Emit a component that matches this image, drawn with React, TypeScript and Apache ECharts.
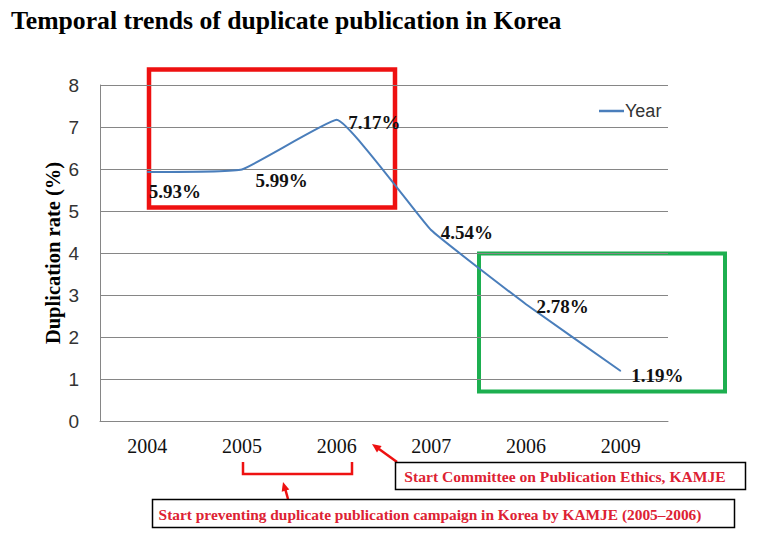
import React, { useEffect, useRef } from "react";
import * as echarts from "echarts";

const categories = ["2004", "2005", "2006", "2007", "2006", "2009"];
const rates = [5.93, 5.99, 7.17, 4.54, 2.78, 1.19];
const rateLabels = ["5.93%", "5.99%", "7.17%", "4.54%", "2.78%", "1.19%"];
const labelOffsets = [[1, 20], [13, 11], [11, 3], [9, 2], [10, 2], [10, 4]];
const yTicks = { min: 0, max: 8, interval: 1 };
const seriesName = "Year";
const titleText = "Temporal trends of duplicate publication in Korea";
const yAxisName = "Duplication rate (%)";
const note1 = "Start Committee on Publication Ethics, KAMJE";
const note2 = "Start preventing duplicate publication campaign in Korea by KAMJE (2005\u20132006)";

const SERIF = "'Liberation Serif', 'Times New Roman', serif";
const SANS = "'Liberation Sans', Arial, sans-serif";
const RED = "#ee1111";
const NOTE_RED = "#dd2233";
const GREEN = "#1daf50";
const LINE = "#4a7ebb";

export default function App() {
  const ref = useRef<HTMLDivElement>(null);
  useEffect(() => {
    document.body.style.margin = "0";
    if (!ref.current) return;
    const chart = echarts.init(ref.current, null, { renderer: "svg" });
    chart.setOption({
      animation: false,
      backgroundColor: "#ffffff",
      title: {
        text: titleText,
        left: 6,
        top: 2,
        textStyle: { fontFamily: SERIF, fontWeight: "bold", fontSize: 25.7, color: "#000" },
      },
      legend: {
        data: [seriesName],
        left: 594,
        top: 97,
        icon: "rect",
        itemWidth: 25,
        itemHeight: 2.5,
        itemGap: 0,
        textStyle: { fontFamily: SANS, fontSize: 18, color: "#333", padding: [0, 0, 0, -4] },
      },
      grid: { left: 100, right: 94, top: 85, bottom: 113 },
      xAxis: {
        type: "category",
        data: categories,
        boundaryGap: true,
        axisLine: { lineStyle: { color: "#868686", width: 1 } },
        axisTick: { show: false },
        axisLabel: { fontFamily: SERIF, fontSize: 20, color: "#111", margin: 15 },
      },
      yAxis: {
        type: "value",
        min: yTicks.min,
        max: yTicks.max,
        interval: yTicks.interval,
        name: yAxisName,
        nameLocation: "middle",
        nameRotate: 90,
        nameGap: 37,
        nameMoveOverlap: false,
        nameTextStyle: { fontFamily: SERIF, fontWeight: "bold", fontSize: 20.5, color: "#000" },
        axisLine: { show: true, lineStyle: { color: "#868686", width: 1 } },
        axisTick: { show: false },
        splitLine: { lineStyle: { color: "#868686", width: 1 } },
        axisLabel: { fontFamily: SANS, fontSize: 19, color: "#333", margin: 21 },
      },
      series: [
        {
          name: seriesName,
          type: "line",
          smooth: 0.1,
          symbol: "circle",
          symbolSize: 1,
          itemStyle: { color: LINE },
          lineStyle: { color: LINE, width: 2 },
          data: rates.map((v, i) => ({
            value: v,
            label: {
              show: true,
              position: "right",
              distance: 0,
              offset: labelOffsets[i],
              formatter: rateLabels[i],
              fontFamily: SERIF,
              fontWeight: "bold",
              fontSize: 19,
              color: "#111",
            },
          })),
        },
      ],
      graphic: [
        {
          type: "rect",
          shape: { x: 149, y: 69.5, width: 246, height: 138 },
          style: { fill: "none", stroke: RED, lineWidth: 4.5 },
        },
        {
          type: "rect",
          shape: { x: 479, y: 253.5, width: 246, height: 138 },
          style: { fill: "none", stroke: GREEN, lineWidth: 4 },
        },
        {
          type: "polyline",
          shape: { points: [[243, 462], [243, 474], [352, 474], [352, 462]] },
          style: { fill: "none", stroke: RED, lineWidth: 2.5 },
        },
        {
          type: "line",
          shape: { x1: 397, y1: 462, x2: 379, y2: 449 },
          style: { stroke: RED, lineWidth: 2.5 },
        },
        {
          type: "polygon",
          shape: { points: [[372, 444], [381.6, 446], [377, 452.4]] },
          style: { fill: RED },
        },
        {
          type: "line",
          shape: { x1: 288, y1: 499, x2: 285.5, y2: 490 },
          style: { stroke: RED, lineWidth: 2.5 },
        },
        {
          type: "polygon",
          shape: { points: [[283, 482], [289.3, 489.5], [281.7, 491.7]] },
          style: { fill: RED },
        },
        {
          type: "rect",
          shape: { x: 395.5, y: 462.5, width: 350, height: 27 },
          style: { fill: "#fff", stroke: "#000", lineWidth: 1.5 },
        },
        {
          type: "text",
          x: 565,
          y: 476,
          style: {
            text: note1,
            align: "center",
            verticalAlign: "middle",
            fontFamily: SERIF,
            fontWeight: "bold",
            fontSize: 15.6,
            fill: NOTE_RED,
          },
        },
        {
          type: "rect",
          shape: { x: 152.5, y: 499.5, width: 582, height: 28 },
          style: { fill: "#fff", stroke: "#000", lineWidth: 1.5 },
        },
        {
          type: "text",
          x: 430,
          y: 514,
          style: {
            text: note2,
            align: "center",
            verticalAlign: "middle",
            fontFamily: SERIF,
            fontWeight: "bold",
            fontSize: 15.4,
            fill: NOTE_RED,
          },
        },
      ],
    });
    return () => chart.dispose();
  }, []);
  return <div ref={ref} style={{ width: 762, height: 534 }} />;
}
